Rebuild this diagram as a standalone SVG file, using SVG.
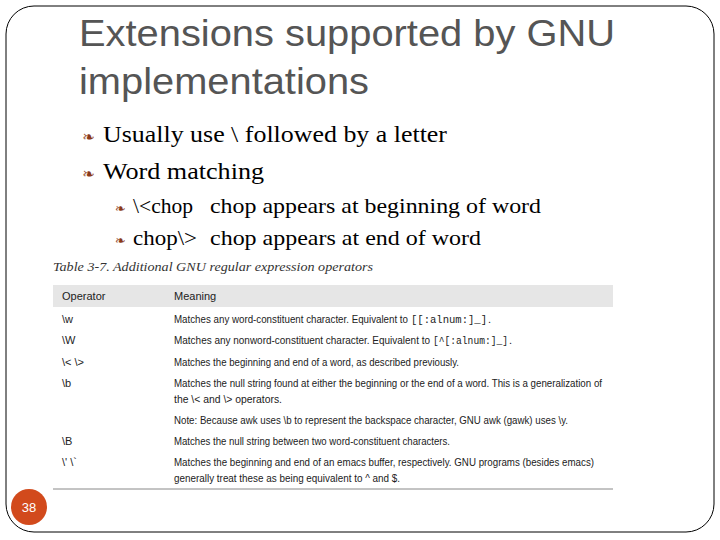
<svg xmlns="http://www.w3.org/2000/svg" width="720" height="540" viewBox="0 0 720 540">
<style>
.t{font-family:"Liberation Serif",serif;fill:#000}
.b{font-family:"DejaVu Sans",sans-serif;fill:#8b3a1a}
.s{font-family:"Liberation Sans Narrow","Liberation Sans",sans-serif;font-size:11px;fill:#222}
.m{font-family:"Liberation Mono",monospace;font-size:11px;fill:#222}
</style>
<rect width="720" height="540" fill="#fff"/>
<rect x="6" y="6" width="708" height="526" rx="28" fill="none" stroke="#000" stroke-width="1"/>
<g id="title"><text x="79" y="46" font-family="Liberation Sans,sans-serif" font-size="37" fill="#555" textLength="536" lengthAdjust="spacingAndGlyphs">Extensions supported by GNU</text>
<text x="79" y="94" font-family="Liberation Sans,sans-serif" font-size="37" fill="#555" textLength="290" lengthAdjust="spacingAndGlyphs">implementations</text></g>
<g id="bullets">
<text x="82" y="142" class="b" font-size="15">❧</text><text x="103" y="142" class="t" font-size="24" textLength="344" lengthAdjust="spacingAndGlyphs">Usually use \ followed by a letter</text>
<text x="82" y="179" class="b" font-size="15">❧</text><text x="103" y="179" class="t" font-size="24" textLength="161" lengthAdjust="spacingAndGlyphs">Word matching</text>
<text x="115" y="213" class="b" font-size="13">❧</text><text x="133" y="213" class="t" font-size="21" textLength="60" lengthAdjust="spacingAndGlyphs">\&lt;chop</text><text x="210" y="213" class="t" font-size="21" textLength="331" lengthAdjust="spacingAndGlyphs">chop appears at beginning of word</text>
<text x="115" y="245" class="b" font-size="13">❧</text><text x="133" y="245" class="t" font-size="21" textLength="64" lengthAdjust="spacingAndGlyphs">chop\&gt;</text><text x="210" y="245" class="t" font-size="21" textLength="271" lengthAdjust="spacingAndGlyphs">chop appears at end of word</text>
</g>
<g id="table">
<text x="53" y="271" font-family="Liberation Serif,serif" font-style="italic" font-size="13" fill="#333" textLength="320" lengthAdjust="spacingAndGlyphs">Table 3-7. Additional GNU regular expression operators</text>
<rect x="53" y="285" width="560" height="22" fill="#e6e6e6"/>
<text x="62" y="300" class="s" font-size="12">Operator</text><text x="174" y="300" class="s" font-size="12">Meaning</text>
<text x="62" y="323" class="s">\w</text><text x="174" y="323" class="s" textLength="234" lengthAdjust="spacingAndGlyphs">Matches any word-constituent character. Equivalent to</text><text x="411" y="323" class="m" textLength="76" lengthAdjust="spacingAndGlyphs">[[:alnum:]_]</text><text x="488" y="323" class="s">.</text>
<text x="62" y="344" class="s">\W</text><text x="174" y="344" class="s" textLength="256" lengthAdjust="spacingAndGlyphs">Matches any nonword-constituent character. Equivalent to</text><text x="433" y="344" class="m" textLength="75" lengthAdjust="spacingAndGlyphs">[^[:alnum:]_]</text><text x="509" y="344" class="s">.</text>
<text x="62" y="366" class="s">\&lt;  \&gt;</text><text x="174" y="366" class="s" textLength="285" lengthAdjust="spacingAndGlyphs">Matches the beginning and end of a word, as described previously.</text>
<text x="62" y="387" class="s">\b</text><text x="174" y="387" class="s" textLength="428" lengthAdjust="spacingAndGlyphs">Matches the null string found at either the beginning or the end of a word. This is a generalization of</text>
<text x="174" y="403" class="s" textLength="108" lengthAdjust="spacingAndGlyphs">the \&lt; and \&gt; operators.</text>
<text x="174" y="424" class="s" textLength="394" lengthAdjust="spacingAndGlyphs">Note: Because awk uses \b to represent the backspace character, GNU awk (gawk) uses \y.</text>
<text x="62" y="445" class="s">\B</text><text x="174" y="445" class="s" textLength="276" lengthAdjust="spacingAndGlyphs">Matches the null string between two word-constituent characters.</text>
<text x="62" y="466" class="s">\'  \`</text><text x="174" y="466" class="s" textLength="420" lengthAdjust="spacingAndGlyphs">Matches the beginning and end of an emacs buffer, respectively. GNU programs (besides emacs)</text>
<text x="174" y="482" class="s" textLength="226" lengthAdjust="spacingAndGlyphs">generally treat these as being equivalent to ^ and $.</text>
<line x1="53" y1="489" x2="613" y2="489" stroke="#888" stroke-width="1"/>
</g>
<g id="page"><circle cx="29" cy="507" r="18" fill="#d24a1c"/><text x="29" y="512" text-anchor="middle" font-family="Liberation Sans,sans-serif" font-size="13" fill="#fff">38</text></g>
</svg>
